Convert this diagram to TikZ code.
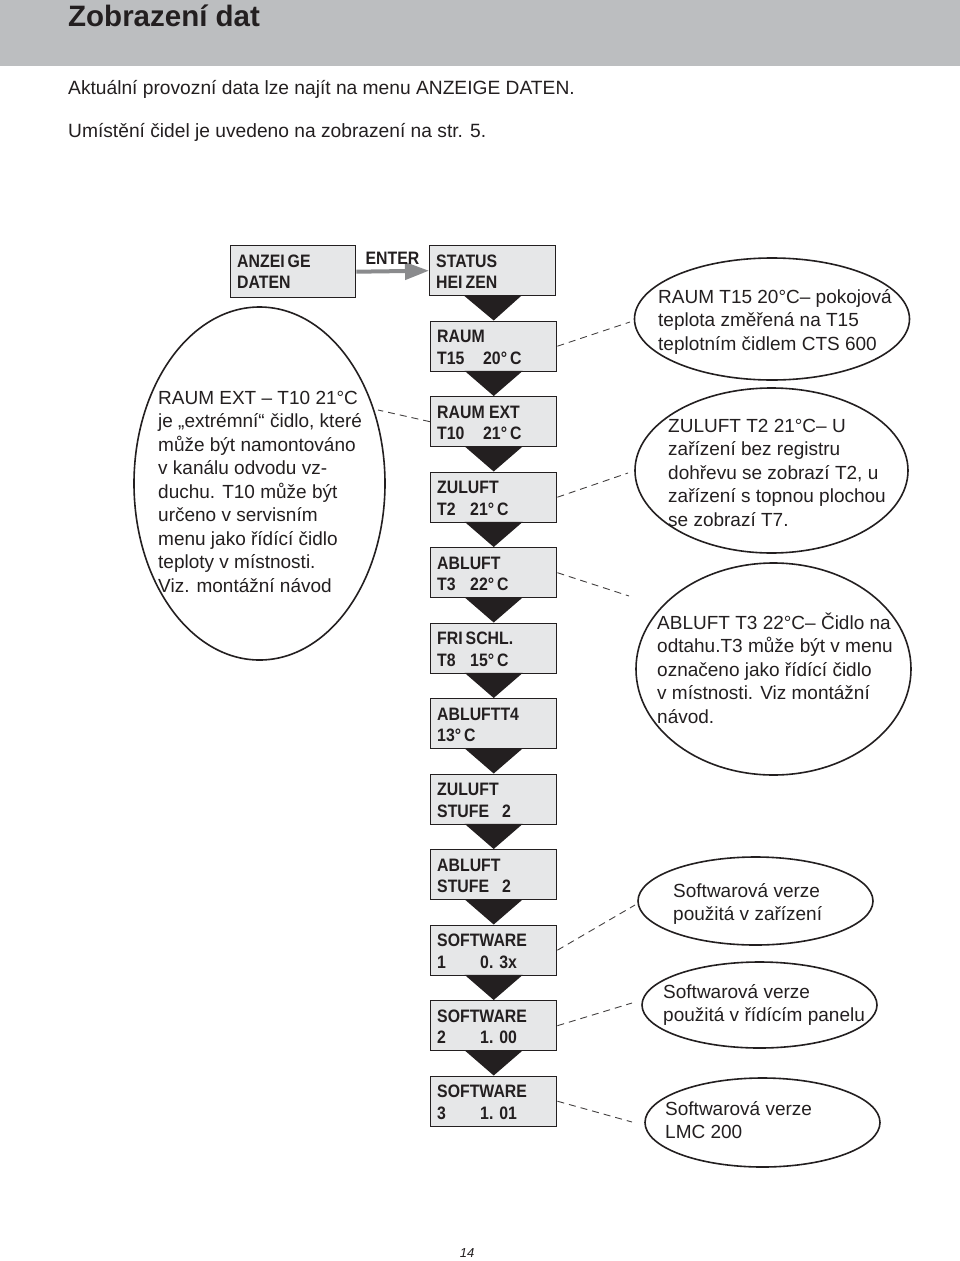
\documentclass[tikz,border=0pt]{standalone}
\usepackage{fontspec}
\setmainfont{Liberation Sans}
\newfontfamily\lcdfont[FakeStretch=0.88]{Liberation Sans}
\usetikzlibrary{arrows.meta,calc,shapes.geometric}
\definecolor{hdr}{HTML}{BCBEC0}
\definecolor{lcd}{HTML}{E6E7E8}
\definecolor{ink}{HTML}{231F20}
\definecolor{entergray}{HTML}{8A8B8D}
\newcommand\notepar[1]{\parbox[t]{320pt}{\raggedright #1}}
\begin{document}
\begin{tikzpicture}[x=1pt,y=-1pt,
  lcdbox/.style={draw=ink,line width=1.4pt,fill=lcd,minimum width=126pt,minimum height=50pt,inner sep=0,anchor=north west},
  lcdtext/.style={anchor=base west,inner sep=0,font=\lcdfont\fontsize{18}{21.5}\selectfont\bfseries,text=ink},
  note/.style={draw=ink,line width=1.6pt,ellipse,inner sep=0},
  notetext/.style={anchor=base west,inner sep=0,text=ink,font=\fontsize{19}{23.5}\selectfont},
  link/.style={draw=ink!85,line width=0.9pt,dash pattern=on 7pt off 5pt},
  flow/.style={fill=ink},
]
\useasboundingbox (0,0) rectangle (960,1261);
\fill[white] (0,0) rectangle (960,1261);
% header
\fill[hdr] (0,0) rectangle (960,66);
\node[anchor=base west,inner sep=0,font=\fontsize{29.5}{34}\selectfont\bfseries,text=ink] (title) at (68,26) {Zobrazení dat};
\node[anchor=base west,inner sep=0,font=\fontsize{19.2}{23.5}\selectfont,text=ink] (intro1) at (68,94) {Aktuální provozní data lze najít na menu ANZEIGE DATEN.};
\node[anchor=base west,inner sep=0,font=\fontsize{19.2}{23.5}\selectfont,text=ink] (intro2) at (68,137) {Umístění čidel je uvedeno na zobrazení na str. 5.};

% LCD boxes
\node[lcdbox,minimum width=125pt,minimum height=52pt] (anz) at (230,245) {};
\node[lcdtext] (tanz) at ($(anz.north west)+(7,22)$) {\parbox[t]{110pt}{ANZEI\,GE\\DATEN}};

\node[lcdbox] (b1) at (429,245) {};
\node[lcdbox] (b2) at (430,320.5) {};
\node[lcdbox] (b3) at (430,396) {};
\node[lcdbox] (b4) at (430,471.5) {};
\node[lcdbox] (b5) at (430,547) {};
\node[lcdbox] (b6) at (430,622.5) {};
\node[lcdbox] (b7) at (430,698) {};
\node[lcdbox] (b8) at (430,773.5) {};
\node[lcdbox] (b9) at (430,849) {};
\node[lcdbox] (b10) at (430,924.5) {};
\node[lcdbox] (b11) at (430,1000) {};
\node[lcdbox] (b12) at (430,1075.5) {};

\foreach \i in {1,...,11}{
  \pgfmathtruncatemacro\j{\i+1}
  \fill[flow] ($(b\i.south)+(-29,-1)$) -- ($(b\i.south)+(29,-1)$) -- (b\j.north) -- cycle;
}

\node[lcdtext] (t1) at ($(b1.north west)+(7,22)$) {\parbox[t]{115pt}{STATUS\\HEI\,ZEN}};
\node[lcdtext] (t2) at ($(b2.north west)+(7,22)$) {\parbox[t]{115pt}{RAUM\\\makebox[46pt][l]{T15}20°\hspace{3pt}C}};
\node[lcdtext] (t3) at ($(b3.north west)+(7,22)$) {\parbox[t]{115pt}{RAUM EXT\\\makebox[46pt][l]{T10}21°\hspace{3pt}C}};
\node[lcdtext] (t4) at ($(b4.north west)+(7,22)$) {\parbox[t]{115pt}{ZULUFT\\\makebox[33pt][l]{T2}21°\hspace{3pt}C}};
\node[lcdtext] (t5) at ($(b5.north west)+(7,22)$) {\parbox[t]{115pt}{ABLUFT\\\makebox[33pt][l]{T3}22°\hspace{3pt}C}};
\node[lcdtext] (t6) at ($(b6.north west)+(7,22)$) {\parbox[t]{115pt}{FRI\,SCHL.\\\makebox[33pt][l]{T8}15°\hspace{3pt}C}};
\node[lcdtext] (t7) at ($(b7.north west)+(7,22)$) {\parbox[t]{115pt}{ABLUFTT4\\13°\hspace{3pt}C}};
\node[lcdtext] (t8) at ($(b8.north west)+(7,22)$) {\parbox[t]{115pt}{ZULUFT\\\makebox[65pt][l]{STUFE}2}};
\node[lcdtext] (t9) at ($(b9.north west)+(7,22)$) {\parbox[t]{115pt}{ABLUFT\\\makebox[65pt][l]{STUFE}2}};
\node[lcdtext] (t10) at ($(b10.north west)+(7,22)$) {\parbox[t]{115pt}{SOFTWARE\\\makebox[43pt][l]{1}0. 3x}};
\node[lcdtext] (t11) at ($(b11.north west)+(7,22)$) {\parbox[t]{115pt}{SOFTWARE\\\makebox[43pt][l]{2}1. 00}};
\node[lcdtext] (t12) at ($(b12.north west)+(7,22)$) {\parbox[t]{115pt}{SOFTWARE\\\makebox[43pt][l]{3}1. 01}};

% ENTER arrow
\draw[entergray,line width=4pt,-{Triangle[length=24pt,width=17pt]}] (anz.east) -- (b1.west);
\node[anchor=base,inner sep=0,font=\lcdfont\fontsize{18}{20}\selectfont\bfseries,text=ink] (enter) at (392.5,264) {ENTER};

% notes (ellipses)
\node[note,minimum width=251pt,minimum height=353pt] (eL) at (259.5,483.5) {};
\node[notetext] (tL) at (158,404) {\notepar{RAUM EXT – T10 21°C\\je „extrémní“ čidlo, které\\může být namontováno\\v kanálu odvodu vz-\\duchu. T10 může být\\určeno v servisním\\menu jako řídící čidlo\\teploty v místnosti.\\Viz. montážní návod}};

\node[note,minimum width=275pt,minimum height=122pt] (e1) at (772,319) {};
\node[notetext] (te1) at (658,303) {\notepar{RAUM T15 20°C– pokojová\\teplota změřená na T15\\teplotním čidlem CTS 600}};

\node[note,minimum width=273pt,minimum height=165pt] (e2) at (771.5,470.5) {};
\node[notetext] (te2) at (668,432) {\notepar{ZULUFT T2 21°C– U\\zařízení bez registru\\dohřevu se zobrazí T2, u\\zařízení s topnou plochou\\se zobrazí T7.}};

\node[note,minimum width=275pt,minimum height=212pt] (e3) at (773.5,669) {};
\node[notetext] (te3) at (657,629) {\notepar{ABLUFT T3 22°C– Čidlo na\\odtahu.T3 může být v menu\\označeno jako řídící čidlo\\v místnosti. Viz montážní\\návod.}};

\node[note,minimum width=235pt,minimum height=88pt] (s1) at (755.5,901) {};
\node[notetext] (ts1) at (673,897) {\notepar{Softwarová verze\\použitá v zařízení}};

\node[note,minimum width=235pt,minimum height=86pt] (s2) at (759.5,1005) {};
\node[notetext] (ts2) at (663,998) {\notepar{Softwarová verze\\použitá v řídícím panelu}};

\node[note,minimum width=235pt,minimum height=89pt] (s3) at (762.5,1122.5) {};
\node[notetext] (ts3) at (665,1115) {\notepar{Softwarová verze\\LMC 200}};

% dashed connectors
\coordinate (dL) at (378,410);
\coordinate (d1) at (630,322);
\coordinate (d2) at (628,473);
\coordinate (d3) at (629,596);
\coordinate (d4) at (635,905);
\coordinate (d5) at (632,1003);
\coordinate (d6) at (632,1122);
\draw[link] (b3.west) -- (dL);
\draw[link] (b2.east) -- (d1);
\draw[link] (b4.east) -- (d2);
\draw[link] (b5.east) -- (d3);
\draw[link] (b10.east) -- (d4);
\draw[link] (b11.east) -- (d5);
\draw[link] (b12.east) -- (d6);

% page number
\node[anchor=base,inner sep=0,font=\fontsize{13}{15}\selectfont\itshape,text=ink] (page) at (467,1257) {14};
\end{tikzpicture}
\end{document}
